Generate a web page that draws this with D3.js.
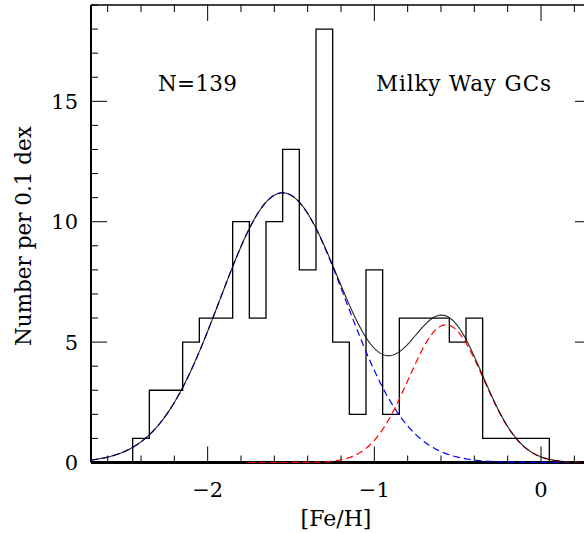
<!DOCTYPE html>
<html>
<head>
<meta charset="utf-8">
<script src="https://cdn.jsdelivr.net/npm/d3@7"></script>
<style>
  body { margin: 0; background: #fff; }
  svg { display: block; }
  text { font-family: "DejaVu Serif", "Liberation Serif", serif; fill: #000; }
</style>
</head>
<body>
<svg id="chart" width="584" height="534"></svg>
<script>
// ---- data ----
const binCenters = [-2.4, -2.3, -2.2, -2.1, -2.0, -1.9, -1.8, -1.7, -1.6, -1.5, -1.4, -1.3, -1.2,
                    -1.1, -1.0, -0.9, -0.8, -0.7, -0.6, -0.5, -0.4, -0.3, -0.2, -0.1, 0.0];
const counts     = [1, 3, 3, 5, 6, 6, 10, 6, 10, 13, 8, 18, 5,
                    2, 8, 2, 6, 6, 6, 5, 6, 1, 1, 1, 1];
const binWidth = 0.1;
// two-Gaussian fit components: metal-poor (blue), metal-rich (red)
const gaussNames  = ["metal-poor", "metal-rich"];
const gaussMeans  = [-1.55, -0.57];
const gaussSigmas = [0.375, 0.225];
const gaussAmps   = [11.2, 5.72];
const gaussRanges = [[-2.7, 0.3], [-1.76, 0.3]];
const gaussColors = ["#0000ff", "#ff0000"];
const xTicksMajor = [-2, -1, 0];
const yTicksMajor = [0, 5, 10, 15];

(function () {
// ---- layout ----
const pL = 91, pR = 591, pT = 5, pB = 462.5;
const svg = d3.select("#chart");

const x = d3.scaleLinear().domain([-2.7, 0.3]).range([pL, pR]);
const y = d3.scaleLinear().domain([0, 19]).range([pB, pT]);

svg.append("defs").append("clipPath").attr("id", "clip")
  .append("rect").attr("x", pL).attr("y", pT).attr("width", pR - pL).attr("height", pB - pT + 2);

const g = svg.append("g");

// ---- ticks (inward on all four sides) ----
const xMinor = d3.range(-2.6, 0.31, 0.2).map(v => Math.round(v * 10) / 10);
const yMinor = d3.range(0, 19.01, 1);
const tickG = g.append("g").attr("stroke", "#000").attr("stroke-width", 1);
xMinor.forEach(v => {
  const major = xTicksMajor.some(m => Math.abs(m - v) < 1e-6);
  const len = major ? 16 : 7;
  tickG.append("line").attr("x1", x(v)).attr("x2", x(v)).attr("y1", pB).attr("y2", pB - len);
  tickG.append("line").attr("x1", x(v)).attr("x2", x(v)).attr("y1", pT).attr("y2", pT + len);
});
yMinor.forEach(v => {
  const major = yTicksMajor.includes(v);
  const len = major ? 16 : 7;
  tickG.append("line").attr("x1", pL).attr("x2", pL + len).attr("y1", y(v)).attr("y2", y(v));
  tickG.append("line").attr("x1", pR).attr("x2", pR - len).attr("y1", y(v)).attr("y2", y(v));
});

// ---- histogram outline ----
const histPts = [{x: binCenters[0] - binWidth / 2, y: 0}];
binCenters.forEach((c, i) => {
  histPts.push({x: c - binWidth / 2, y: counts[i]});
  histPts.push({x: c + binWidth / 2, y: counts[i]});
});
histPts.push({x: binCenters[binCenters.length - 1] + binWidth / 2, y: 0});
const line = d3.line().x(d => x(d.x)).y(d => y(d.y));
g.append("path").datum(histPts).attr("d", line)
  .attr("fill", "none").attr("stroke", "#000").attr("stroke-width", 1.3);

// ---- frame ----
g.append("line").attr("x1", pL).attr("x2", pL).attr("y1", pT).attr("y2", pB)
  .attr("stroke", "#000").attr("stroke-width", 2);
g.append("line").attr("x1", pL).attr("x2", pR).attr("y1", pT).attr("y2", pT)
  .attr("stroke", "#000").attr("stroke-width", 1.5);
g.append("line").attr("x1", pR).attr("x2", pR).attr("y1", pT).attr("y2", pB)
  .attr("stroke", "#000").attr("stroke-width", 2);
g.append("line").attr("x1", pL).attr("x2", pR).attr("y1", pB).attr("y2", pB)
  .attr("stroke", "#000").attr("stroke-width", 3);

// ---- Gaussian components (drawn over the frame, as in the reference) ----
const gauss = (v, i) => gaussAmps[i] * Math.exp(-((v - gaussMeans[i]) ** 2) / (2 * gaussSigmas[i] ** 2));
const curveG = g.append("g").attr("clip-path", "url(#clip)");
gaussNames.forEach((n, i) => {
  const [a, b] = gaussRanges[i];
  const pts = d3.range(a, b + 0.0001, 0.005).map(v => ({x: v, y: gauss(v, i)}));
  curveG.append("path").datum(pts).attr("d", line)
    .attr("fill", "none").attr("stroke", gaussColors[i]).attr("stroke-width", 1.2)
    .attr("stroke-dasharray", "7,4");
});
// total
const totPts = d3.range(-2.7, 0.3001, 0.005).map(v => ({x: v, y: gauss(v, 0) + gauss(v, 1)}));
curveG.append("path").datum(totPts).attr("d", line)
  .attr("fill", "none").attr("stroke", "#000").attr("stroke-width", 1.1).attr("stroke-opacity", 0.85);

// ---- tick labels ----
yTicksMajor.forEach(v => {
  svg.append("text").attr("x", 78).attr("y", y(v) + 7.5).attr("text-anchor", "end")
    .attr("font-size", 21).text(v);
});
xTicksMajor.forEach(v => {
  svg.append("text").attr("x", x(v)).attr("y", 497).attr("text-anchor", "middle")
    .attr("font-size", 21).text(v < 0 ? "\u2212" + Math.abs(v) : v);
});

// ---- axis titles ----
svg.append("text").attr("x", 336).attr("y", 526).attr("text-anchor", "middle")
  .attr("font-size", 22).text("[Fe/H]");
svg.append("text").attr("transform", "translate(31,236) rotate(-90)").attr("text-anchor", "middle")
  .attr("font-size", 21.5).text("Number per 0.1 dex");

// ---- annotations ----
svg.append("text").attr("x", 158).attr("y", 91).attr("font-size", 21.5)
  .attr("textLength", 79).attr("lengthAdjust", "spacing").text("N=139");
svg.append("text").attr("x", 376).attr("y", 91).attr("font-size", 21.5)
  .attr("textLength", 175).attr("lengthAdjust", "spacing").text("Milky Way GCs");
})();
</script>
</body>
</html>
